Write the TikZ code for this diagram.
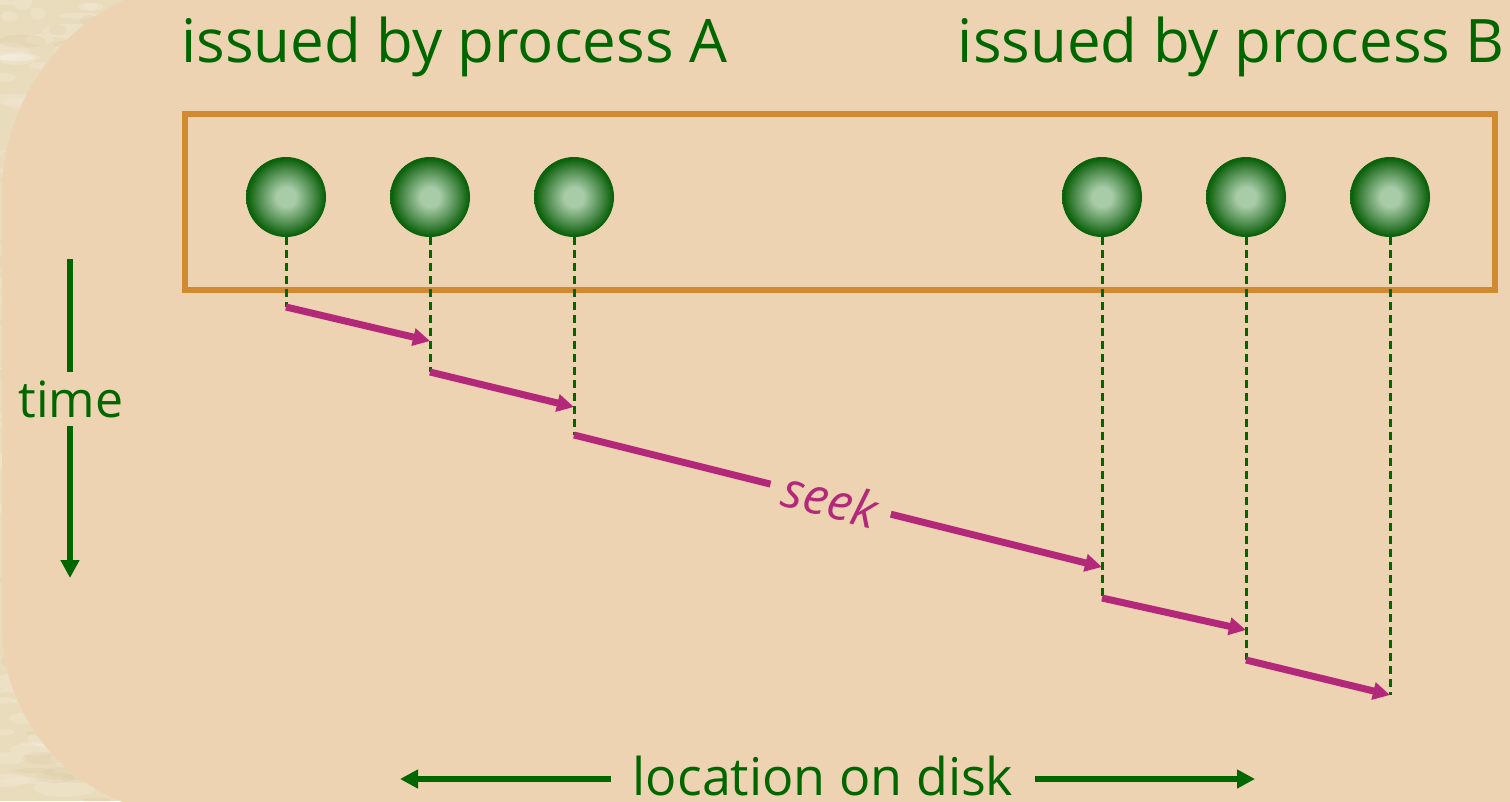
\documentclass[tikz,border=0pt]{standalone}
\usepackage{fontspec}
\setmainfont{Open Sans}
\usetikzlibrary{arrows.meta}
\definecolor{bg}{RGB}{237,211,178}
\definecolor{texbase}{RGB}{233,220,188}
\definecolor{texdark}{RGB}{210,190,148}
\definecolor{dg}{RGB}{0,102,0}
\definecolor{mag}{RGB}{180,40,122}
\definecolor{orng}{RGB}{208,138,48}
\definecolor{ballin}{RGB}{168,204,168}
\definecolor{ballmid}{RGB}{85,145,85}
\definecolor{ballout}{RGB}{12,98,12}
\pgfdeclareradialshading{ballsh}{\pgfpoint{0bp}{0bp}}{color(0bp)=(ballin); color(6bp)=(ballin); color(16bp)=(ballmid); color(24bp)=(ballout); color(50bp)=(ballout)}
\tikzset{
  ttl/.style={text=dg, inner sep=0pt, font=\fontsize{60}{72}\selectfont},
  ball/.style={circle, minimum size=80pt, inner sep=0pt, shading=ballsh},
  dline/.style={draw=dg, line width=3pt, dash pattern=on 8pt off 5pt},
  marrow/.style={draw=mag, line width=7pt, -{Triangle[length=17pt,width=17pt]}},
  garrow/.style={draw=dg, line width=5.5pt, -{Triangle[length=18pt,width=18pt]}},
  gline/.style={draw=dg, line width=5.5pt},
}
\begin{document}
\begin{tikzpicture}[x=1pt,y=-1pt]
\useasboundingbox (0,0) rectangle (1510,801);
% parchment texture on the left
\fill[texbase] (0,0) rectangle (1510,801);
\pgfmathsetseed{11}
\foreach \i in {1,...,260}{
  \pgfmathsetmacro\xx{rnd*230}
  \pgfmathsetmacro\yy{rnd*801}
  \pgfmathsetmacro\ww{6+rnd*26}
  \pgfmathsetmacro\hh{2+rnd*7}
  \fill[white,opacity=0.14] (\xx,\yy) ellipse [x radius=\ww pt, y radius=\hh pt];
}
\foreach \i in {1,...,160}{
  \pgfmathsetmacro\xx{rnd*230}
  \pgfmathsetmacro\yy{rnd*801}
  \pgfmathsetmacro\ww{4+rnd*20}
  \pgfmathsetmacro\hh{2+rnd*5}
  \fill[texdark,opacity=0.15] (\xx,\yy) ellipse [x radius=\ww pt, y radius=\hh pt];
}
% tan page area
\fill[bg] (2,625) -- (2,193) .. controls (2,85) and (90,-17) .. (200,-17)
  -- (1530,-17) -- (1530,815) -- (192,815) .. controls (87,815) and (2,730) .. (2,625) -- cycle;

% titles
\node[ttl, anchor=base west] (tA) at (181,62) {issued by process A};
\node[ttl, anchor=base east] (tB) at (1505,62) {issued by process B};

% request box
\node[draw=orng, line width=6pt, minimum width=1310pt, minimum height=176pt, inner sep=0pt] (box) at (840,202) {};

% requests
\node[ball] (a1) at (286,197) {};
\node[ball] (a2) at (430,197) {};
\node[ball] (a3) at (574,197) {};
\node[ball] (b1) at (1102,197) {};
\node[ball] (b2) at (1246,197) {};
\node[ball] (b3) at (1390,197) {};

% head path points
\coordinate (s1) at (286,307);
\coordinate (e1) at (430,341);
\coordinate (s2) at (430,372);
\coordinate (e2) at (574,407);
\coordinate (s3) at (574,435);
\coordinate (e3) at (1102,567);
\coordinate (s4) at (1102,598);
\coordinate (e4) at (1246,630);
\coordinate (s5) at (1246,660);
\coordinate (e5) at (1390,695);

\draw[dline] (a1.south) -- (s1);
\draw[dline] (a2.south) -- (s2);
\draw[dline] (a3.south) -- (s3);
\draw[dline] (b1.south) -- (s4);
\draw[dline] (b2.south) -- (s5);
\draw[dline] (b3.south) -- (e5);

\draw[marrow] (s1) -- (e1);
\draw[marrow] (s2) -- (e2);
\draw[marrow] (s3) -- node[pos=0.486, sloped, fill=bg, inner xsep=14pt, inner ysep=0pt, text=mag,
   font=\fontsize{50}{58}\selectfont\itshape] (seek) {seek} (e3);
\draw[marrow] (s4) -- (e4);
\draw[marrow] (s5) -- (e5);

% time axis
\node[text=dg, inner xsep=0pt, inner ysep=8pt, font=\fontsize{50}{60}\selectfont] (time) at (71,399) {time};
\coordinate (ttop) at (70,259);
\coordinate (tbot) at (70,578);
\draw[gline] (ttop) -- (ttop |- time.north);
\draw[garrow] (tbot |- time.south) -- (tbot);

% location axis
\node[text=dg, inner xsep=22pt, inner ysep=0pt, anchor=base, font=\fontsize{52}{62}\selectfont] (loc) at (823,795) {location on disk};
\coordinate (lL) at (400,779);
\coordinate (lR) at (1255,779);
\draw[garrow] (lL -| loc.west) -- (lL);
\draw[garrow] (lR -| loc.east) -- (lR);
\end{tikzpicture}
\end{document}
